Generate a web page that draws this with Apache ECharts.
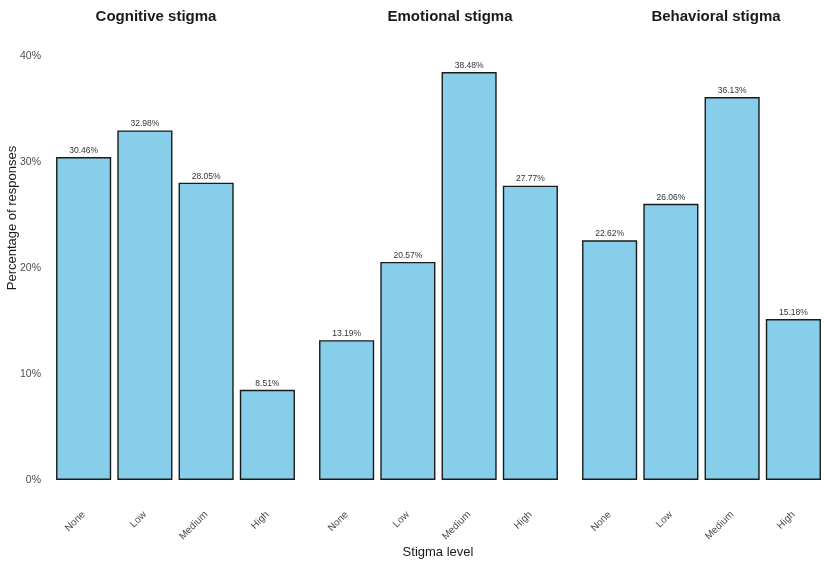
<!DOCTYPE html>
<html>
<head>
<meta charset="utf-8">
<script src="https://cdn.jsdelivr.net/npm/echarts@6/dist/echarts.min.js"></script>
<style>html,body{margin:0;padding:0;background:#fff;}#c{width:825px;height:561px;}</style>
</head>
<body>
<div id="c"></div>
<script>
const categories = ['None', 'Low', 'Medium', 'High'];
const facetTitles = ['Cognitive stigma', 'Emotional stigma', 'Behavioral stigma'];
const cognitive = [30.46, 32.98, 28.05, 8.51];
const emotional = [13.19, 20.57, 38.48, 27.77];
const behavioral = [22.62, 26.06, 36.13, 15.18];
const yTicks = [0, 10, 20, 30, 40];

const seriesData = [cognitive, emotional, behavioral];
const gridLefts = [53, 316, 579];
const titleCenters = [156, 450, 716];
const FONT = '"Liberation Sans", Arial, Helvetica, sans-serif';

const chart = echarts.init(document.getElementById('c'), null, {renderer: 'canvas'});
const grids = [], xAxes = [], yAxes = [], series = [], graphics = [];
for (let i = 0; i < 3; i++) {
  grids.push({left: gridLefts[i], width: 245, top: 56, height: 424, containLabel: false});
  xAxes.push({
    type: 'category', gridIndex: i, data: categories,
    axisLine: {show: false}, axisTick: {show: false}, splitLine: {show: false},
    axisLabel: {rotate: 45, margin: 33, fontSize: 10, color: '#4d4d4d', fontFamily: FONT}
  });
  yAxes.push({
    type: 'value', gridIndex: i, min: yTicks[0], max: yTicks[yTicks.length - 1], interval: 10,
    axisLine: {show: false}, axisTick: {show: false}, splitLine: {show: false},
    axisLabel: {show: i === 0, margin: 12, fontSize: 10.5, color: '#4d4d4d', fontFamily: FONT,
      formatter: v => v + '%'}
  });
  series.push({
    type: 'bar', xAxisIndex: i, yAxisIndex: i, data: seriesData[i], barWidth: '90%',
    itemStyle: {color: '#87CEEB', borderColor: '#1a1a1a', borderWidth: 1.4},
    label: {show: true, position: 'top', distance: 2, fontSize: 8.5, color: '#333', fontFamily: FONT,
      formatter: p => p.value.toFixed(2) + '%'}
  });
  graphics.push({
    type: 'text', x: titleCenters[i], y: 17,
    style: {text: facetTitles[i], font: 'bold 15px ' + FONT, fill: '#1a1a1a', textAlign: 'center', textVerticalAlign: 'middle'}
  });
}
graphics.push({
  type: 'text', x: 438, y: 552,
  style: {text: 'Stigma level', font: '13px ' + FONT, fill: '#1a1a1a', textAlign: 'center', textVerticalAlign: 'middle'}
});
graphics.push({
  type: 'text', x: 12, y: 218, rotation: Math.PI / 2,
  style: {text: 'Percentage of responses', font: '13px ' + FONT, fill: '#1a1a1a', textAlign: 'center', textVerticalAlign: 'middle'}
});

chart.setOption({
  backgroundColor: '#fff',
  animation: false,
  grid: grids, xAxis: xAxes, yAxis: yAxes, series: series, graphic: graphics
});
</script>
</body>
</html>
